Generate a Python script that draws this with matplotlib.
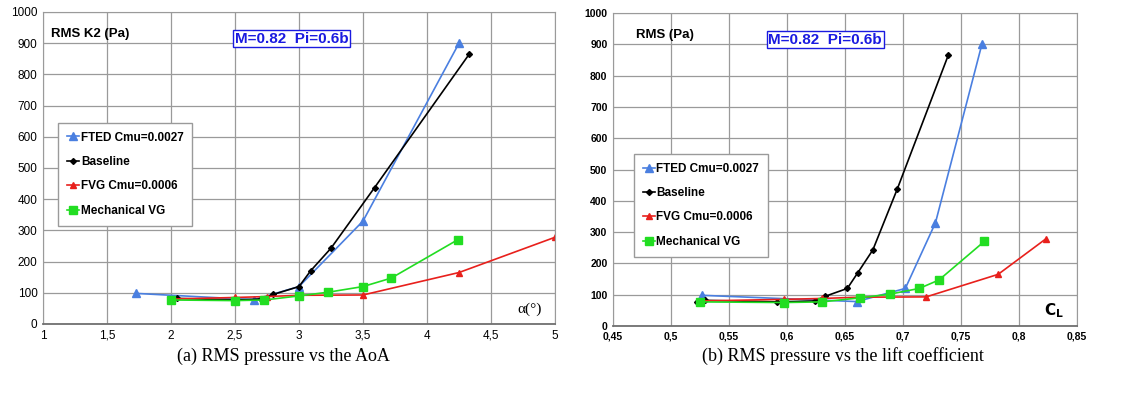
import matplotlib
matplotlib.use("Agg")
import matplotlib.pyplot as plt
from matplotlib.ticker import FuncFormatter

plt.rcParams["font.family"] = ["Liberation Sans", "DejaVu Sans"]

# ---- data ----
# (a) RMS vs angle of attack
fted_aoa = [1.73, 2.65, 3.0, 3.5, 4.25]
fted_rms = [98, 78, 120, 330, 900]
base_aoa = [2.0, 2.05, 2.5, 2.7, 2.8, 3.0, 3.09, 3.25, 3.59, 4.33]
base_rms = [78, 82, 77, 80, 95, 120, 170, 243, 437, 865]
fvg_aoa = [2.0, 2.5, 2.75, 3.0, 3.5, 4.25, 5.0]
fvg_rms = [80, 85, 88, 92, 93, 165, 278]
mvg_aoa = [2.0, 2.5, 2.73, 3.0, 3.23, 3.5, 3.72, 4.24]
mvg_rms = [77, 75, 77, 90, 102, 120, 147, 270]

# (b) RMS vs lift coefficient
fted_cl = [0.527, 0.66, 0.702, 0.728, 0.768]
base_cl = [0.522, 0.529, 0.591, 0.624, 0.633, 0.652, 0.661, 0.674, 0.695, 0.739]
fvg_cl = [0.525, 0.597, 0.63, 0.663, 0.72, 0.782, 0.823]
mvg_cl = [0.525, 0.597, 0.63, 0.663, 0.689, 0.714, 0.731, 0.77]

LABELS = ["FTED Cmu=0.0027", "Baseline", "FVG Cmu=0.0006", "Mechanical VG"]
STYLE = [
    dict(color="#4a7fe0", marker="^", ms=6),
    dict(color="black", marker="D", ms=3),
    dict(color="#e8201c", marker="^", ms=5),
    dict(color="#22dd22", marker="s", ms=5.5),
]

comma = FuncFormatter(lambda v, _: f"{v:g}".replace(".", ","))


def draw(ax, series, xlim, xticks, ylabel, xlabel, ylabel_x, box_x, legend_anchor,
         tick_size, tick_weight):
    for (x, y), lab, st in zip(series, LABELS, STYLE):
        ax.plot(x, y, lw=1.2, label=lab, color=st["color"], marker=st["marker"],
                ms=st["ms"], mec=st["color"])
    ax.set_xlim(*xlim)
    ax.set_ylim(0, 1000)
    ax.set_xticks(xticks)
    ax.set_yticks(range(0, 1001, 100))
    ax.xaxis.set_major_formatter(comma)
    ax.grid(True, color="#9a9a9a", lw=0.9)
    ax.set_axisbelow(True)
    for s in ax.spines.values():
        s.set_color("#9a9a9a")
    ax.spines["bottom"].set_color("#707070")
    ax.spines["bottom"].set_linewidth(1.3)
    ax.tick_params(labelsize=tick_size, length=0, pad=4)
    for t in ax.get_xticklabels() + ax.get_yticklabels():
        t.set_fontweight(tick_weight)
    ax.text(ylabel_x, 0.93, ylabel, transform=ax.transAxes, fontsize=9.5,
            fontweight="bold", va="center")
    ax.text(box_x, 0.915, "M=0.82  Pi=0.6b", transform=ax.transAxes, fontsize=11,
            fontweight="bold", color="#1a1ae0", va="center",
            bbox=dict(boxstyle="square,pad=0.12", fc="white", ec="#1a1ae0", lw=1))
    ax.text(0.95, 0.035, xlabel, transform=ax.transAxes, fontsize=11, ha="center",
            family="Liberation Serif")
    leg = ax.legend(loc="upper left", bbox_to_anchor=legend_anchor,
                    prop=dict(weight="bold", size=8.5), handlelength=1.0,
                    handletextpad=0.15, labelspacing=1.05, borderpad=0.75,
                    fancybox=False, framealpha=1, borderaxespad=0)
    leg.get_frame().set_edgecolor("#9a9a9a")


fig = plt.figure(figsize=(11.41, 4.01), dpi=100)
ax1 = fig.add_axes([43 / 1141, 1 - 324 / 401, 512 / 1141, 312 / 401])
ax2 = fig.add_axes([613 / 1141, 1 - 326 / 401, 464 / 1141, 313 / 401])

draw(ax1, [(fted_aoa, fted_rms), (base_aoa, base_rms), (fvg_aoa, fvg_rms), (mvg_aoa, mvg_rms)],
     (1, 5), [1, 1.5, 2, 2.5, 3, 3.5, 4, 4.5, 5], "RMS K2 (Pa)", "α(°)",
     0.015, 0.375, (0.03, 0.645), 8.5, "normal")
draw(ax2, [(fted_cl, fted_rms), (base_cl, base_rms), (fvg_cl, fvg_rms), (mvg_cl, mvg_rms)],
     (0.45, 0.85), [0.45, 0.5, 0.55, 0.6, 0.65, 0.7, 0.75, 0.8, 0.85], "RMS (Pa)",
     r"$\mathbf{C_L}$", 0.05, 0.335, (0.045, 0.55), 7.5, "bold")

fig.text(283 / 1141, 1 - 356 / 401, "(a) RMS pressure vs the AoA", ha="center",
         va="center", fontsize=13, family="Liberation Serif")
fig.text(843 / 1141, 1 - 356 / 401, "(b) RMS pressure vs the lift coefficient",
         ha="center", va="center", fontsize=13, family="Liberation Serif")

fig.savefig("out.png", dpi=100)
